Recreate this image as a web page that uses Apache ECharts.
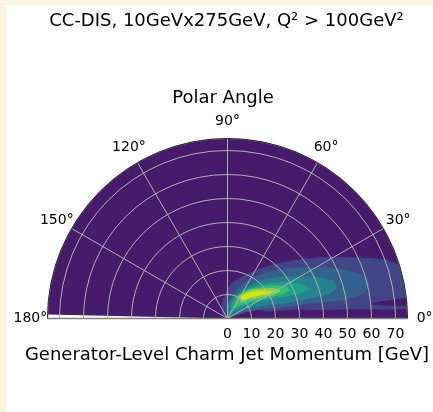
<!DOCTYPE html>
<html>
<head>
<meta charset="utf-8">
<script src="https://cdn.jsdelivr.net/npm/echarts@6/dist/echarts.min.js"></script>
<style>
  html, body { margin: 0; padding: 0; background: #fcf5e3; }
  #chart { width: 433px; height: 412px; }
</style>
</head>
<body>
<div id="chart"></div>
<script>
// Tick values
const angleTicks = [0, 30, 60, 90, 120, 150, 180];
const momentumTicks = [0, 10, 20, 30, 40, 50, 60, 70];
const momentumMax = 75;

// Filled-contour levels (viridis band colours, lowest first)
const levelColors = ['#481a6c', '#414487', '#34618d', '#26828e', '#1fa088', '#3fbc73', '#84d44b', '#d8e219'];

// Contour band outlines as [momentum GeV, polar angle deg]
const band0 = [[0, 0], [75, 0], [75, 178.7], [0, 178.7]];
const band1 = [[3.5, 130], [6.1, 113], [9.8, 96], [14.0, 86], [17.1, 74.7], [21.2, 63.7], [27.1, 52.9],
  [34.2, 43.8], [42.5, 36.1], [53.4, 28.5], [63.2, 23.5], [70.7, 20.2], [75, 17.5], [75, 6.6],
  [63.9, 6.4], [59.3, 5.85], [63.8, 4.9], [75, 4.0], [75, 3.1], [64.9, 3.3], [51.2, 4.3],
  [37.5, 5.4], [16.7, 10], [5.9, 27.5], [2.4, 38], [0, 38], [0, 160], [2, 160]];
const band2 = [[4.4, 98], [9.3, 79], [16.1, 65.8], [22.6, 53.2], [31.0, 41.4], [40.5, 31.8], [48.8, 25.4],
  [55.9, 20.4], [60.6, 16.7], [61.0, 13.2], [57.5, 10.2], [48.8, 8.8], [34.9, 10.3], [20.9, 11.5],
  [7.7, 18.9], [0, 18.9], [0, 98]];
const band3 = [[5.6, 88], [10.9, 69.4], [16.6, 55.7], [23.0, 44.9], [32.5, 32.4], [41.0, 24.9], [46.8, 19.8],
  [47.4, 15.8], [43.9, 13.4], [35.3, 13.3], [24.8, 14.6], [12.3, 21.8], [4.7, 32.3], [0, 32.3], [0, 88]];
const band4 = [[7.1, 74.7], [11.8, 63.9], [17.1, 51], [24.1, 37.8], [31.3, 28.7], [35.8, 22.6], [36.0, 19.3],
  [31.9, 18.7], [23.5, 21.3], [13.2, 29.4], [5.9, 42.1], [2.7, 57.5], [1.5, 70]];
const band5 = [[9.2, 67.5], [13.6, 57.5], [18.1, 45.5], [23.5, 35.8], [28.0, 28.4], [28.8, 24.3], [24.7, 23.3],
  [14.7, 29.8], [8.6, 41], [4.4, 58.6]];
const band6 = [[10.0, 64], [14.3, 53.3], [19.0, 41], [23.8, 31.7], [25.1, 27.2], [20.9, 27.3], [14.0, 35.3],
  [8.7, 49.8]];
const band7 = [[10.0, 58.6], [12.5, 54.5], [16.1, 44.5], [19.8, 36], [22.0, 30.7], [19.6, 30.7], [14.7, 38.7],
  [10.3, 48.3]];
const bands = [band0, band1, band2, band3, band4, band5, band6, band7];

// Walk an outline in (momentum, angle) space so arcs stay round on screen
function outlineToPoints(outline, api) {
  const pts = [];
  for (let i = 0; i < outline.length; i++) {
    const a = outline[i];
    const b = outline[(i + 1) % outline.length];
    const steps = Math.max(1, Math.ceil(Math.abs(b[1] - a[1]) / 1.5));
    for (let s = 0; s < steps; s++) {
      const t = s / steps;
      pts.push(api.coord([a[0] + (b[0] - a[0]) * t, a[1] + (b[1] - a[1]) * t]));
    }
  }
  return pts;
}

const chart = echarts.init(document.getElementById('chart'), null, { renderer: 'canvas' });

chart.setOption({
  backgroundColor: '#fcf5e3',
  animation: false,
  polar: { center: [227.5, 318.5], radius: 180 },
  angleAxis: {
    type: 'value', min: 0, max: 180, interval: 30,
    startAngle: 0, endAngle: 180, clockwise: false, z: 6,
    axisLine: { show: true, lineStyle: { color: '#222', width: 1 } },
    axisTick: { show: false },
    axisLabel: { show: false },
    splitLine: { show: true, lineStyle: { color: '#b0b0b0', width: 1 } }
  },
  radiusAxis: {
    type: 'value', min: 0, max: momentumMax, interval: 10, z: 5,
    axisLine: { show: false },
    axisTick: { show: false },
    axisLabel: { show: false },
    splitLine: { show: true, lineStyle: { color: '#b0b0b0', width: 1 } }
  },
  graphic: [
    { type: 'rect', z: -100, shape: { x: 6, y: 5, width: 427, height: 407 }, style: { fill: '#ffffff' } },
    { type: 'text', x: 226.5, y: 21, style: { text: 'CC-DIS, 10GeVx275GeV, Q² > 100GeV²', font: '18px "DejaVu Sans"', fill: '#000', align: 'center', verticalAlign: 'middle' } },
    { type: 'text', x: 223, y: 98, style: { text: 'Polar Angle', font: '18px "DejaVu Sans"', fill: '#000', align: 'center', verticalAlign: 'middle' } },
    { type: 'text', x: 227, y: 355, style: { text: 'Generator-Level Charm Jet Momentum [GeV]', font: '18px "DejaVu Sans"', fill: '#000', align: 'center', verticalAlign: 'middle' } }
  ],
  series: [
    {
      type: 'custom',
      name: 'contours',
      coordinateSystem: 'polar',
      z: 2,
      silent: true,
      data: bands.map(() => [0, 0]),
      renderItem: function (params, api) {
        const idx = params.dataIndex;
        return {
          type: 'polygon',
          shape: { points: outlineToPoints(bands[idx], api) },
          style: { fill: levelColors[idx], stroke: null }
        };
      }
    },
    {
      type: 'custom',
      name: 'baseline',
      coordinateSystem: 'polar',
      z: 8,
      silent: true,
      data: [[0, 0]],
      renderItem: function (params, api) {
        const left = api.coord([momentumMax, 180]);
        const right = api.coord([momentumMax, 0]);
        return {
          type: 'line',
          shape: { x1: left[0], y1: left[1], x2: right[0], y2: right[1] },
          style: { stroke: '#808080', lineWidth: 1.6 }
        };
      }
    },
    {
      type: 'custom',
      name: 'angleLabels',
      coordinateSystem: 'polar',
      z: 8,
      silent: true,
      data: angleTicks.map(() => [0, 0]),
      renderItem: function (params, api) {
        const a = angleTicks[params.dataIndex];
        const p = api.coord([momentumMax * 1.095, a]);
        return {
          type: 'text',
          x: p[0], y: p[1],
          style: { text: a + '°', font: '14px "DejaVu Sans"', fill: '#000', align: 'center', verticalAlign: 'middle' }
        };
      }
    },
    {
      type: 'custom',
      name: 'momentumLabels',
      coordinateSystem: 'polar',
      z: 8,
      silent: true,
      data: momentumTicks.map(() => [0, 0]),
      renderItem: function (params, api) {
        const v = momentumTicks[params.dataIndex];
        const p = api.coord([v, 0]);
        return {
          type: 'text',
          x: p[0], y: p[1] + 15.5,
          style: { text: String(v), font: '14px "DejaVu Sans"', fill: '#000', align: 'center', verticalAlign: 'middle' }
        };
      }
    }
  ]
});
</script>
</body>
</html>
